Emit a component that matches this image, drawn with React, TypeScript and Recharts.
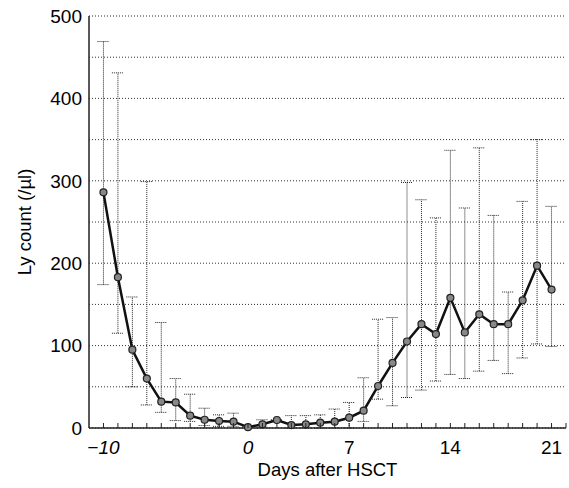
import React from 'react';
import { ComposedChart, Line, XAxis, YAxis, CartesianGrid, ErrorBar } from 'recharts';

const days = [-10, -9, -8, -7, -6, -5, -4, -3, -2, -1, 0, 1, 2, 3, 4, 5, 6, 7, 8, 9, 10, 11, 12, 13, 14, 15, 16, 17, 18, 19, 20, 21];
const means = [286, 183, 95, 60, 32, 31, 15, 10, 8.5, 7.7, 1, 4.5, 9.7, 3.6, 4.5, 6.5, 7.7, 12.5, 21, 51, 79, 105, 126, 114, 158, 116, 138, 126, 126, 155, 197, 168];
const upper = [469, 431, 159, 299, 128, 60, 41, 24, 16, 18, 1, 10, 9.7, 15, 15, 16, 23, 31, 61, 132, 134, 298, 277, 255, 337, 267, 340, 258, 165, 275, 350, 269];
const lower = [174, 115, 50, 28, 19, 9, 8, 3, 2, 2, 1, 1, 9.7, 0, 0, 0, 0, 0, 8, 35, 27, 37, 46, 57, 65, 60, 69, 82, 66, 85, 102, 99];

const xTickValues = [-10, -9, -8, -7, -6, -5, -4, -3, -2, -1, 0, 1, 2, 3, 4, 5, 6, 7, 8, 9, 10, 11, 12, 13, 14, 15, 16, 17, 18, 19, 20, 21, 22];
const xLabelled = [-10, 0, 7, 14, 21];
const xItalic = [-10, 0];
const yTickValues = [0, 50, 100, 150, 200, 250, 300, 350, 400, 450, 500];
const yLabelled = [0, 100, 200, 300, 400, 500];

const data = days.map((d, i) => ({
  day: d,
  mean: means[i],
  err: [means[i] - lower[i], upper[i] - means[i]],
}));

const FONT = '"Liberation Sans", Arial, sans-serif';

const XTick = (props: any) => {
  const { x, y, payload } = props;
  const v = payload.value;
  const label = xLabelled.includes(v) ? (v < 0 ? '\u2212' + Math.abs(v) : String(v)) : '';
  return (
    <g>
      <line x1={x} y1={y} x2={x} y2={y - 5} stroke="#222" strokeWidth={1} />
      {label && (
        <text
          x={x}
          y={y + 26}
          textAnchor="middle"
          fontSize={19}
          fontFamily={FONT}
          fontStyle={xItalic.includes(v) ? 'italic' : 'normal'}
          fill="#000"
        >
          {label}
        </text>
      )}
    </g>
  );
};

export default function App() {
  return (
    <div style={{ position: 'absolute', left: 0, top: 0, width: 569, height: 488, background: '#fff' }}>
      <ComposedChart width={569} height={488} data={data} margin={{ top: 16, right: 3, bottom: 0, left: 10 }}>
        <CartesianGrid vertical={false} stroke="#333" strokeDasharray="1 2" strokeWidth={1} />
        <XAxis
          dataKey="day"
          type="number"
          domain={[-11, 22]}
          ticks={xTickValues}
          interval={0}
          tick={<XTick />}
          tickLine={false}
          tickSize={0}
          tickMargin={0}
          height={60}
          axisLine={{ stroke: '#222', strokeWidth: 1.5 }}
          label={{ value: 'Days after HSCT', position: 'insideBottom', offset: 12, fontSize: 18.5, fontFamily: FONT, fill: '#000' }}
        />
        <YAxis
          type="number"
          domain={[0, 500]}
          ticks={yTickValues}
          interval={0}
          width={79}
          tickLine={false}
          tickSize={0}
          tickMargin={7}
          tickFormatter={(v: number) => (yLabelled.includes(v) ? String(v) : '')}
          tick={{ fontSize: 19, fontFamily: FONT, fill: '#000' }}
          axisLine={{ stroke: '#222', strokeWidth: 1.5 }}
          label={{ value: 'Ly count (/\u00b5l)', angle: -90, position: 'insideLeft', offset: 14, fontSize: 18.5, fontFamily: FONT, fill: '#000', style: { textAnchor: 'middle' } }}
        />
        <Line
          dataKey="mean"
          stroke="#111"
          strokeWidth={2.5}
          isAnimationActive={false}
          dot={{ r: 3.5, fill: '#888', stroke: '#222', strokeWidth: 1.2 }}
        >
          <ErrorBar dataKey="err" width={6} stroke="#222" strokeWidth={1} strokeDasharray="1 1" direction="y" />
        </Line>
      </ComposedChart>
    </div>
  );
}
